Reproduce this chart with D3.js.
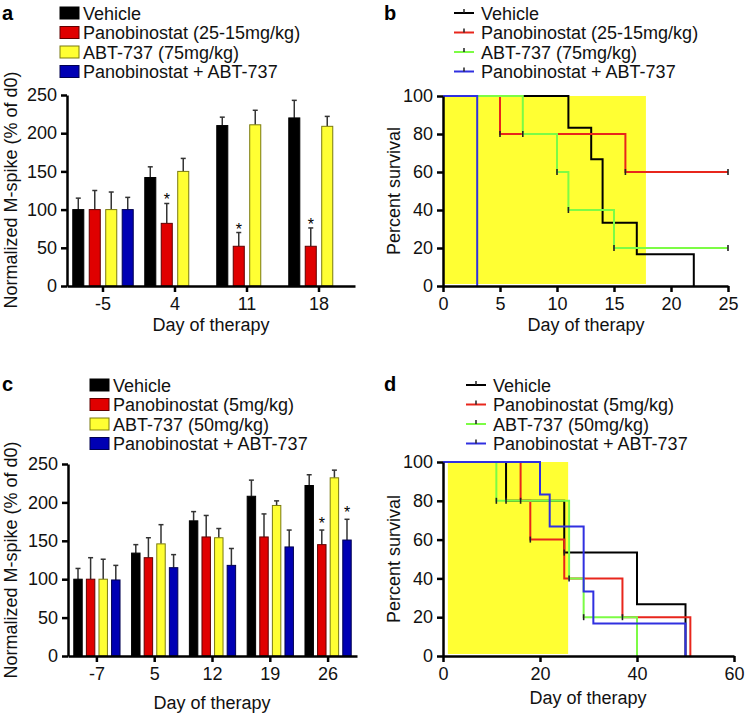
<!DOCTYPE html>
<html>
<head>
<meta charset="utf-8">
<script src="https://cdn.jsdelivr.net/npm/d3@7"></script>
<style>
  body { margin: 0; background: #fff; }
  svg { font-family: "Liberation Sans", Arial, sans-serif; }
</style>
</head>
<body>
<svg id="fig" width="746" height="715"></svg>
<script>
// ---- panel a data ----
const seriesA = ["Vehicle", "Panobinostat (25-15mg/kg)", "ABT-737 (75mg/kg)", "Panobinostat + ABT-737"];
const daysA = ["-5", "4", "11", "18"];
const vehA = [100, 142, 210, 220];
const vehAErr = [115, 156, 221, 243];
const panoA = [100, 82, 52, 52];
const panoAErr = [125, 108, 70, 76];
const abtA = [100, 150, 211, 209];
const abtAErr = [123, 167, 230, 222];
const comboA = [100, null, null, null];
const comboAErr = [116, null, null, null];
const starsA = [[1, "4"], [1, "11"], [1, "18"]];

// ---- panel c data ----
const seriesC = ["Vehicle", "Panobinostat (5mg/kg)", "ABT-737 (50mg/kg)", "Panobinostat + ABT-737"];
const daysC = ["-7", "5", "12", "19", "26"];
const vehC = [100, 134, 176, 208, 222];
const vehCErr = [114, 145, 188, 229, 236];
const panoC = [100, 128, 155, 155, 145];
const panoCErr = [128, 154, 183, 185, 164];
const abtC = [100, 146, 154, 196, 232];
const abtCErr = [126, 171, 166, 202, 242];
const comboC = [99, 115, 118, 142, 151];
const comboCErr = [118, 132, 140, 164, 178];
const starsC = [[1, "26"], [3, "26"]];

const barTicks = [0, 50, 100, 150, 200, 250];

// ---- panel b data (Kaplan-Meier steps: [day, percent]) ----
const vehB = [[0, 100], [11, 83.3], [13, 66.7], [14, 33.3], [17, 16.7], [22, 0]];
const panoB = [[0, 100], [5, 80], [16, 60], [25, 60]];
const abtB = [[0, 100], [7, 80], [10, 60], [11, 40], [15, 20], [25, 20]];
const comboB = [[0, 100], [3, 0]];
const censorB = [[], [[5, 80], [16, 60], [25, 60]], [[7, 80], [10, 60], [11, 40], [15, 20], [25, 20]], []];
const therapyB = [0, 17.8];
const xTicksB = [0, 5, 10, 15, 20, 25];

// ---- panel d data ----
const vehD = [[0, 100], [13, 80], [25, 53.3], [40, 26.7], [50, 0]];
const panoD = [[0, 100], [16, 80], [18, 60], [25, 40], [37, 20], [51, 0]];
const abtD = [[0, 100], [11, 80], [26, 40], [29, 20], [40, 0]];
const comboD = [[0, 100], [20, 83.3], [22, 66.7], [29, 33.3], [31, 16.7], [50, 0]];
const censorD = [[[13, 80], [25, 53.3]], [[16, 80], [18, 60], [37, 20]], [[11, 80], [26, 40], [29, 20]], []];
const therapyD = [1, 25.8];
const xTicksD = [0, 20, 40, 60];

const survTicks = [0, 20, 40, 60, 80, 100];

const barFill = ["#000000", "#e00000", "#ffff33", "#0000b4"];
const barEdge = ["#000000", "#600000", "#7a7a10", "#000050"];
const lineColors = ["#000000", "#e8261c", "#7cfc45", "#3030e0"];

const svg = d3.select("#fig");

function styleAxis(g) {
  g.selectAll("path.domain").attr("stroke", "#000").attr("stroke-width", 2.5);
  g.selectAll(".tick line").attr("stroke", "#000").attr("stroke-width", 2.5);
  g.selectAll(".tick text").attr("font-size", 18).attr("fill", "#111")
    .attr("font-family", "Liberation Sans, Arial, sans-serif");
}

function panelLetter(t, x, y) {
  svg.append("text").attr("x", x).attr("y", y).text(t)
    .attr("font-size", 20).attr("font-weight", "bold");
}

function axisTitles(xt, xx, xy, yt, yx, yy) {
  svg.append("text").attr("x", xx).attr("y", xy).attr("text-anchor", "middle")
    .attr("font-size", 18).attr("fill", "#111").text(xt);
  svg.append("text").attr("transform", `translate(${yx},${yy}) rotate(-90)`)
    .attr("text-anchor", "middle").attr("font-size", 18).attr("fill", "#111").text(yt);
}

function barPanel(o) {
  const x0 = d3.scaleBand().domain(o.days).range([o.left, o.right])
    .paddingInner(o.pad).paddingOuter(o.pad / 2);
  const x1 = d3.scaleBand().domain(d3.range(4)).range([0, x0.bandwidth()]).paddingInner(0.33);
  const y = d3.scaleLinear().domain([0, 250]).range([o.bottom, o.top]);

  const rows = [];
  o.means.forEach((m, s) => m.forEach((v, i) => {
    if (v != null) rows.push({ s: s, day: o.days[i], v: v, e: o.errs[s][i] });
  }));
  const g = svg.append("g");
  const cx = d => x0(d.day) + x1(d.s) + x1.bandwidth() / 2;

  g.selectAll("line.err").data(rows).join("line")
    .attr("x1", cx).attr("x2", cx)
    .attr("y1", d => y(d.v)).attr("y2", d => y(d.e))
    .attr("stroke", "#333").attr("stroke-width", 1.5);
  g.selectAll("line.cap").data(rows).join("line")
    .attr("x1", d => cx(d) - 2.5).attr("x2", d => cx(d) + 2.5)
    .attr("y1", d => y(d.e)).attr("y2", d => y(d.e))
    .attr("stroke", "#333").attr("stroke-width", 1.5);
  g.selectAll("rect").data(rows).join("rect")
    .attr("x", d => x0(d.day) + x1(d.s)).attr("width", x1.bandwidth())
    .attr("y", d => y(d.v)).attr("height", d => y(0) - y(d.v))
    .attr("fill", d => barFill[d.s]).attr("stroke", d => barEdge[d.s]).attr("stroke-width", 1);

  o.stars.forEach(([s, day]) => {
    const i = o.days.indexOf(day);
    g.append("text").attr("x", x0(day) + x1(s) + x1.bandwidth() / 2)
      .attr("y", y(o.errs[s][i]) + o.starDy)
      .attr("text-anchor", "middle").attr("font-size", 16).text("*");
  });

  svg.append("g").attr("transform", `translate(${o.left},0)`)
    .call(d3.axisLeft(y).tickValues(barTicks).tickSize(6).tickPadding(4).tickSizeOuter(0))
    .call(styleAxis);
  svg.append("g").attr("transform", `translate(0,${o.bottom})`)
    .call(d3.axisBottom(x0).tickSize(6).tickPadding(5).tickSizeOuter(0))
    .call(styleAxis);

  // legend
  const lg = svg.append("g");
  o.series.forEach((name, s) => {
    const ly = o.legY + s * 19.5;
    lg.append("rect").attr("x", o.legX).attr("y", ly - 6).attr("width", 19).attr("height", 12)
      .attr("fill", barFill[s]).attr("stroke", barEdge[s]).attr("stroke-width", 1);
    lg.append("text").attr("x", o.legX + 23).attr("y", ly + 6.5)
      .attr("font-size", 18).attr("fill", "#111").text(name);
  });
}

function survPanel(o) {
  const x = d3.scaleLinear().domain([0, o.xmax]).range([o.left, o.right]);
  const y = d3.scaleLinear().domain([0, 100]).range([o.bottom, o.top]);
  const g = svg.append("g");

  g.append("rect").attr("x", x(o.therapy[0])).attr("y", y(100))
    .attr("width", x(o.therapy[1]) - x(o.therapy[0])).attr("height", y(0) - y(100) - 2)
    .attr("fill", "#ffff33");

  const line = d3.line().x(d => x(d[0])).y(d => y(d[1])).curve(d3.curveStepAfter);
  o.curves.forEach((c, i) => {
    g.append("path").attr("d", line(c)).attr("fill", "none")
      .attr("stroke", lineColors[i]).attr("stroke-width", 2);
  });
  o.censor.forEach((pts, i) => {
    g.selectAll(null).data(pts).join("line")
      .attr("x1", d => x(d[0])).attr("x2", d => x(d[0]))
      .attr("y1", d => y(d[1]) - 3).attr("y2", d => y(d[1]) + 3)
      .attr("stroke", "#222").attr("stroke-width", 1.6);
  });

  svg.append("g").attr("transform", `translate(${o.left},0)`)
    .call(d3.axisLeft(y).tickValues(survTicks).tickSize(6).tickPadding(4).tickSizeOuter(0))
    .call(styleAxis);
  svg.append("g").attr("transform", `translate(0,${o.bottom})`)
    .call(d3.axisBottom(x).tickValues(o.xTicks).tickSize(6).tickPadding(5).tickSizeOuter(0))
    .call(styleAxis);

  const lg = svg.append("g");
  o.series.forEach((name, s) => {
    const ly = o.legY + s * 19.5;
    lg.append("line").attr("x1", o.legX).attr("x2", o.legX + 20).attr("y1", ly).attr("y2", ly)
      .attr("stroke", lineColors[s]).attr("stroke-width", 2);
    lg.append("line").attr("x1", o.legX + 10).attr("x2", o.legX + 10).attr("y1", ly - 4).attr("y2", ly)
      .attr("stroke", "#222").attr("stroke-width", 1.5);
    lg.append("text").attr("x", o.legX + 27).attr("y", ly + 6.5)
      .attr("font-size", 18).attr("fill", "#111").text(name);
  });
}

// panel a
barPanel({
  days: daysA, series: seriesA,
  means: [vehA, panoA, abtA, comboA], errs: [vehAErr, panoAErr, abtAErr, comboAErr],
  stars: starsA, starDy: 2,
  left: 67, right: 355, top: 95, bottom: 286, pad: 0.16,
  legX: 60, legY: 13
});
panelLetter("a", 2, 20);
axisTitles("Day of therapy", 211, 331, "Normalized M-spike (% of d0)", 17, 190);

// panel c
barPanel({
  days: daysC, series: seriesC,
  means: [vehC, panoC, abtC, comboC], errs: [vehCErr, panoCErr, abtCErr, comboCErr],
  stars: starsC, starDy: -1,
  left: 68, right: 357, top: 464, bottom: 656, pad: 0.2,
  legX: 90, legY: 385
});
panelLetter("c", 2, 391);
axisTitles("Day of therapy", 212, 709, "Normalized M-spike (% of d0)", 17, 560);

// panel b
survPanel({
  series: seriesA, curves: [vehB, panoB, abtB, comboB], censor: censorB,
  therapy: therapyB, xmax: 25, xTicks: xTicksB,
  left: 443, right: 728, top: 96, bottom: 286,
  legX: 454, legY: 13
});
panelLetter("b", 384, 20);
axisTitles("Day of therapy", 586, 331, "Percent survival", 400, 191);

// panel d
survPanel({
  series: seriesC, curves: [vehD, panoD, abtD, comboD], censor: censorD,
  therapy: therapyD, xmax: 60, xTicks: xTicksD,
  left: 443, right: 734, top: 462, bottom: 656,
  legX: 466, legY: 385
});
panelLetter("d", 384, 391);
axisTitles("Day of therapy", 588, 704, "Percent survival", 400, 559);
</script>
</body>
</html>
